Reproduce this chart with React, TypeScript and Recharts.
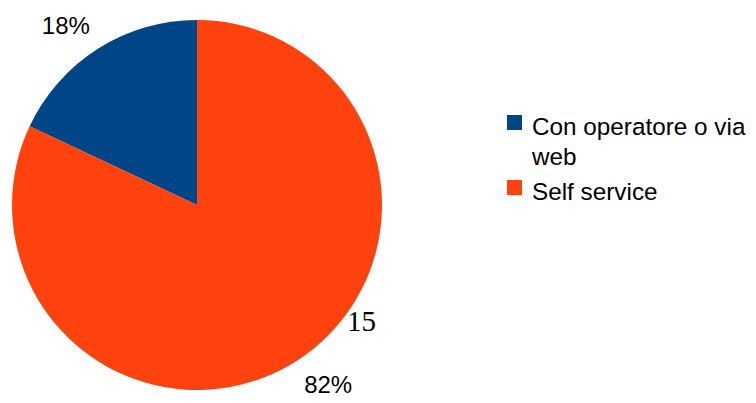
import React from "react";
import { PieChart, Pie, Cell, Legend } from "recharts";

const categories = ["Con operatore o via web", "Self service"];
const values = [18, 82];
const colors = ["#004586", "#ff420e"];
const strayNote = "15";

const data = categories.map((name, i) => ({ name, value: values[i] }));

const RADIAN = Math.PI / 180;
const FONT = "'Liberation Sans', Arial, sans-serif";

const renderLabel = (props: any) => {
  const { cx, cy, midAngle, outerRadius, percent } = props;
  const r = outerRadius + 15;
  const cos = Math.cos(-midAngle * RADIAN);
  const sin = Math.sin(-midAngle * RADIAN);
  const x = cx + r * cos;
  const y = cy + r * sin;
  const anchor = cos >= 0 ? "start" : "end";
  const baseline = sin > 0 ? y + 19 : y - 2;
  return (
    <text
      x={x}
      y={baseline}
      textAnchor={anchor}
      fill="#000"
      fontFamily={FONT}
      fontSize={24}
    >
      {`${Math.round(percent * 100)}%`}
    </text>
  );
};

const renderLegend = () => (
  <div style={{ fontFamily: FONT, fontSize: 24.3, lineHeight: "30px", color: "#000" }}>
    {data.map((d, i) => (
      <div key={d.name} style={{ position: "relative", paddingLeft: 25, marginBottom: 5 }}>
        <span
          style={{
            position: "absolute",
            left: 0,
            top: 3,
            width: 15,
            height: 15,
            background: colors[i],
          }}
        />
        {d.name}
      </div>
    ))}
  </div>
);

export default function App() {
  return (
    <div style={{ position: "absolute", left: 0, top: 0, width: 756, height: 403, background: "#fff" }}>
      <PieChart width={756} height={403} margin={{ top: 0, right: 0, bottom: 0, left: 0 }}>
        <Pie
          data={data}
          dataKey="value"
          nameKey="name"
          cx={197}
          cy={205}
          outerRadius={185}
          startAngle={90}
          endAngle={450}
          stroke="none"
          label={renderLabel}
          labelLine={false}
          isAnimationActive={false}
        >
          {data.map((d, i) => (
            <Cell key={d.name} fill={colors[i]} />
          ))}
        </Pie>
        <Legend
          content={renderLegend}
          wrapperStyle={{ position: "absolute", left: 507, top: 112, width: 247, bottom: "auto" }}
        />
      </PieChart>
      <div
        style={{
          position: "absolute",
          left: 347,
          top: 303,
          fontFamily: "'Liberation Serif', 'Times New Roman', serif",
          fontSize: 29,
          lineHeight: "36px",
          color: "#000",
        }}
      >
        {strayNote}
      </div>
    </div>
  );
}
